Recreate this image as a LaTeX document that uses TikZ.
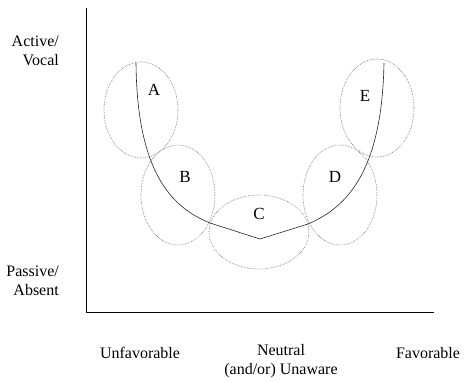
\documentclass[tikz,border=0pt]{standalone}
\usepackage{fontspec}
\setmainfont{Liberation Serif}
\usepackage{tikz}
\usetikzlibrary{calc,positioning}
\tikzset{
  zone/.style={draw=black!60, densely dotted, line width=0.6pt},
  curveline/.style={draw=black!85, semithick},
  zonelabel/.style={font=\fontsize{17}{19}\selectfont, inner sep=0pt},
  axislabel/.style={font=\fontsize{16}{19.5}\selectfont, inner sep=0pt},
}

\begin{document}
\begin{tikzpicture}[x=1pt,y=-1pt]

		\useasboundingbox (0,0) rectangle (464,383);

		% axes
		\coordinate (top) at (86,8);
		\coordinate (orig) at (86,312);
		\coordinate (right) at (434,312);
		\draw[semithick] (top) -- (orig) -- (right);

		% zones
		\draw[zone] (141,110) ellipse (37 and 48);
		\draw[zone] (178,195) ellipse (37 and 50);
		\draw[zone] (259,232) ellipse (50 and 37);
		\draw[zone] (340,195) ellipse (37 and 50);
		\draw[zone] (377,108) ellipse (37 and 49);

		\node[zonelabel] (la) at (154,90) {A};
		\node[zonelabel] (lb) at (185,177) {B};
		\node[zonelabel] (lc) at (259,214) {C};
		\node[zonelabel] (ld) at (335,177) {D};
		\node[zonelabel] (le) at (365,96) {E};

		% the curve
		\coordinate (cstart) at (136,63);
		\coordinate (cleft) at (210,223);
		\coordinate (cbottom) at (260,239);
		\coordinate (cright) at (308,224);
		\coordinate (cend) at (384,63);
		\draw[curveline] (cstart) .. controls (137,170) and (170,207) .. (cleft)
			-- (cbottom) -- (cright)
			.. controls (348,207) and (382,170) .. (cend);

		% axis labels
		\node[axislabel, align=right, anchor=east] (active) at (59,51) {Active/\\Vocal};
		\node[axislabel, align=right, anchor=east] (passive) at (59,281) {Passive/\\Absent};
		\node[axislabel] (unfav) at (140,353) {Unfavorable};
		\node[axislabel, align=center, anchor=north] (neutral) at (281,344) {Neutral\\(and/or) Unaware};
		\node[axislabel] (fav) at (428,353) {Favorable};

	\end{tikzpicture}
\end{document}
